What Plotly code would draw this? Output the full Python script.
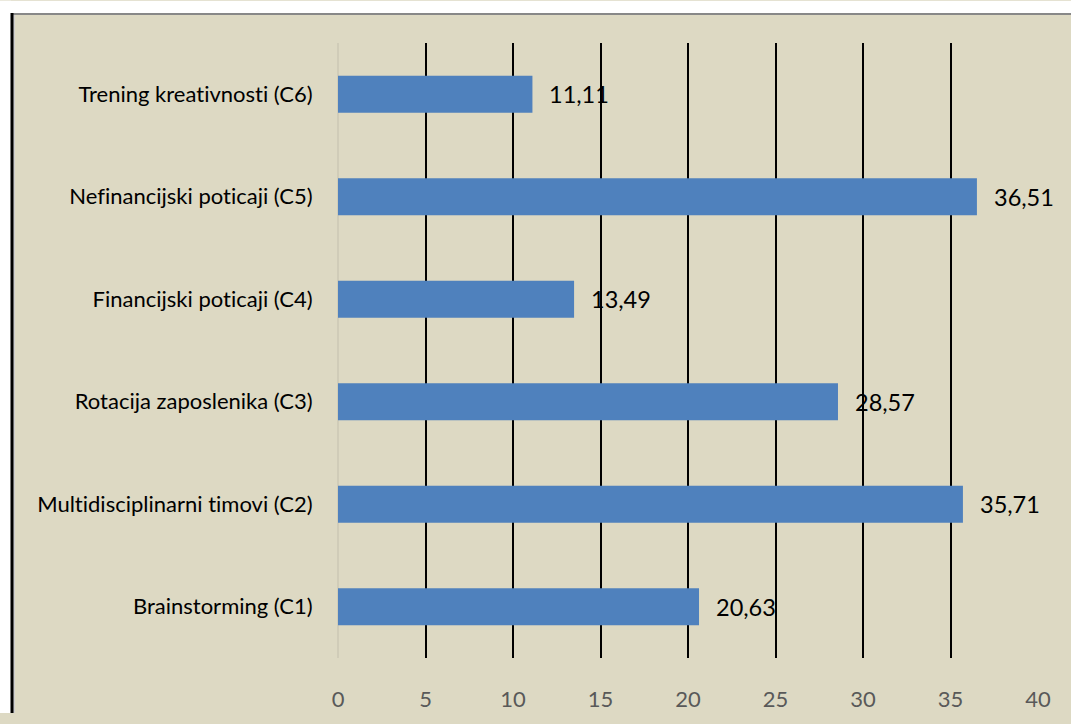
import plotly.graph_objects as go

categories = [
    "Brainstorming (C1)",
    "Multidisciplinarni timovi (C2)",
    "Rotacija zaposlenika (C3)",
    "Financijski poticaji (C4)",
    "Nefinancijski poticaji (C5)",
    "Trening kreativnosti (C6)",
]
values = [20.63, 35.71, 28.57, 13.49, 36.51, 11.11]
labels = [f"{v:.2f}".replace(".", ",") for v in values]
x_ticks = [0, 5, 10, 15, 20, 25, 30, 35, 40]

BG = "#DDD9C3"
BAR = "#4F81BD"
FONT = "Lato"

fig = go.Figure()
fig.add_trace(go.Bar(
    x=values, y=categories, orientation="h",
    marker=dict(color=BAR, line=dict(width=0)),
    width=0.36, hoverinfo="skip",
))

for v, c, t in zip(values, categories, labels):
    fig.add_annotation(x=v, y=c, text=t, showarrow=False, xanchor="left",
                       xshift=15, font=dict(family=FONT, size=23.5, color="black"))

W, H = 1071, 724
L, R, T, B = 338, 33, 43, 56
pw, ph = W - L - R, H - T - B

def px(x):
    return (x - L) / pw

def py(y):
    return (H - B - y) / ph

shapes = [
    dict(type="rect", xref="paper", yref="paper", x0=px(0), x1=px(W), y0=py(13), y1=py(0),
         fillcolor="white", line=dict(width=0), layer="below"),
    dict(type="rect", xref="paper", yref="paper", x0=px(0), x1=px(11), y0=py(H), y1=py(0),
         fillcolor="white", line=dict(width=0), layer="below"),
    dict(type="line", xref="paper", yref="paper", x0=px(14), x1=px(14), y0=py(14), y1=py(H),
         line=dict(color="#CFCFCF", width=2)),
    dict(type="line", xref="paper", yref="paper", x0=px(12), x1=px(W), y0=py(13.5), y1=py(13.5),
         line=dict(color="#888888", width=2)),
    dict(type="line", xref="paper", yref="paper", x0=px(12), x1=px(12), y0=py(12.5), y1=py(H),
         line=dict(color="black", width=3)),
]

fig.update_layout(
    width=W, height=H,
    margin=dict(l=L, r=R, t=T, b=B, pad=0),
    paper_bgcolor=BG, plot_bgcolor=BG,
    showlegend=False,
    shapes=shapes,
    font=dict(family=FONT),
    xaxis=dict(
        range=[0, 40], tickvals=x_ticks, showgrid=True, gridcolor="black", gridwidth=2,
        zeroline=True, zerolinecolor="#D0CCB8", zerolinewidth=1.5,
        showline=False, ticks="outside", ticklen=22, tickcolor=BG,
        tickfont=dict(family=FONT, size=22, color="#595959"), fixedrange=True,
    ),
    yaxis=dict(
        categoryorder="array", categoryarray=categories,
        showgrid=False, zeroline=False, showline=False,
        ticks="outside", ticklen=20, tickcolor=BG,
        tickfont=dict(family=FONT, size=22, color="black"), fixedrange=True,
    ),
    bargap=0.64,
)

post = (
    "document.body.style.margin='0';"
    "document.body.style.overflow='hidden';"
    "document.body.style.background='" + BG + "';"
    "document.documentElement.style.overflow='hidden';"
    "document.documentElement.style.background='" + BG + "';"
    "var st=document.createElement('style');"
    "st.textContent='text{font-variant-ligatures:none !important;font-feature-settings:\"liga\" 0 !important;}';"
    "document.head.appendChild(st);"
)
fig.write_html("out.html", config={"displayModeBar": False, "staticPlot": True}, post_script=post)
